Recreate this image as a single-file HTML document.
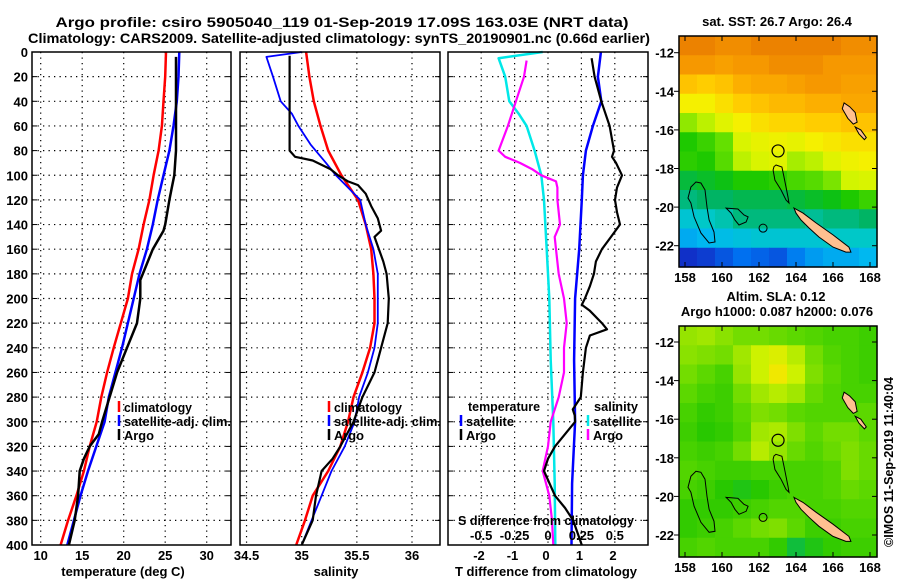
<!DOCTYPE html>
<html><head><meta charset="utf-8"><style>
html,body{margin:0;padding:0;background:#fff;}
svg{display:block;font-family:"Liberation Sans",Arial,sans-serif;font-weight:bold;}
text{font-size:13px;fill:#000;}
</style></head><body>
<svg id="fig" width="900" height="580" viewBox="0 0 900 580" xmlns="http://www.w3.org/2000/svg">
<text x="342" y="27" text-anchor="middle" textLength="573" lengthAdjust="spacingAndGlyphs" style="font-size:14px">Argo profile: csiro 5905040_119 01-Sep-2019 17.09S 163.03E (NRT data)</text>
<text x="339" y="43" text-anchor="middle" textLength="622" lengthAdjust="spacingAndGlyphs" style="font-size:14px">Climatology: CARS2009. Satellite-adjusted climatology: synTS_20190901.nc (0.66d earlier)</text>
<text x="777" y="26" text-anchor="middle">sat. SST: 26.7 Argo: 26.4</text>
<text x="776" y="301" text-anchor="middle">Altim. SLA: 0.12</text>
<text x="777" y="316" text-anchor="middle">Argo h1000: 0.087 h2000: 0.076</text>
<text x="0" y="0" transform="translate(893,547) rotate(-90)" textLength="170" lengthAdjust="spacingAndGlyphs">©IMOS 11-Sep-2019 11:40:04</text>
</svg>
<script>
// ---------- profile data ----------
const depthTicks=[0,20,40,60,80,100,120,140,160,180,200,220,240,260,280,300,320,340,360,380,400];
const tempTickLabels=[10,15,20,25,30];
const salTickLabels=[34.5,35,35.5,36];
const tdiffTickLabels=[-2,-1,0,1,2];
const sdiffTickLabels=[-0.5,-0.25,0,0.25,0.5];

const tClimDepth=[0,20,40,60,80,100,120,140,160,180,200,240,260,280,300,320,340,360,380,400];
const tClimVal=[25.1,25.0,24.8,24.6,24.2,23.6,23.1,22.4,21.8,21.0,20.5,18.8,18.0,17.3,16.75,15.9,15.2,14.3,13.3,12.4];
const tSatDepth=[0,20,40,60,80,100,120,140,160,180,200,240,260,280,300,320,340,360,380,400];
const tSatVal=[26.7,26.6,26.4,26.0,25.5,24.8,24.1,23.5,22.8,21.9,21.2,19.8,19.0,18.2,17.7,16.7,15.7,14.8,14.0,13.2];
const tArgoDepth=[4,20,40,60,80,100,110,120,140,145,160,180,185,200,220,240,260,280,300,310,320,330,340,360,380,400];
const tArgoVal=[26.3,26.3,26.3,26.3,26.3,26.1,25.8,25.5,25.0,24.8,23.5,22.3,22.0,22.0,21.6,20.4,19.2,18.3,17.4,17.0,15.9,15.2,14.7,14.5,14.1,13.4];

const sClimDepth=[0,20,40,60,80,100,120,140,160,180,200,220,240,260,280,300,320,340,360,380,400];
const sClimVal=[35.04,35.07,35.11,35.17,35.24,35.36,35.51,35.58,35.63,35.65,35.66,35.66,35.62,35.55,35.47,35.42,35.35,35.24,35.10,35.03,34.95];
const sSatDepth=[0,4,20,40,50,60,75,90,100,120,140,160,180,200,220,240,260,280,300,320,340,360,380,400];
const sSatVal=[35.0,34.68,34.74,34.81,34.91,34.97,35.08,35.22,35.31,35.53,35.58,35.65,35.69,35.69,35.69,35.66,35.60,35.52,35.48,35.39,35.27,35.18,35.09,35.0];
const sArgoDepth=[3,40,80,85,88,95,100,105,108,115,125,135,145,150,160,170,180,200,220,240,260,280,300,320,330,340,360,380,400];
const sArgoVal=[34.89,34.89,34.89,34.94,35.10,35.26,35.33,35.42,35.51,35.58,35.63,35.69,35.72,35.66,35.70,35.74,35.77,35.79,35.78,35.72,35.66,35.55,35.47,35.35,35.28,35.18,35.13,35.10,35.0];

const dtSatDepth=[0,20,40,60,80,100,120,160,200,250,300,350,400];
const dtSatVal=[1.64,1.55,1.65,1.40,1.19,1.10,1.07,0.99,0.87,0.84,0.87,0.78,0.76];
const dtArgoDepth=[5,20,40,60,80,85,90,100,110,120,130,140,150,160,170,180,190,200,205,210,220,225,230,240,260,280,290,295,300,310,320,330,340,360,370,380,400];
const dtArgoVal=[1.36,1.45,1.65,1.90,2.03,1.97,2.09,2.27,2.12,2.06,2.12,2.21,1.94,1.67,1.49,1.43,1.31,1.16,1.07,1.31,1.67,1.82,1.31,1.19,1.10,1.04,0.80,0.86,0.87,0.57,0.27,0.06,-0.06,0.27,0.57,0.81,1.07];
const dsSatDepth=[0,5,20,40,50,60,80,100,120,160,200,250,300,350,400];
const dsSatVal=[-0.04,-0.37,-0.32,-0.29,-0.22,-0.16,-0.10,-0.05,-0.03,-0.01,0.01,0.02,0.04,0.05,0.055];
const dsArgoDepth=[7,20,40,60,80,85,90,95,100,105,110,120,140,150,160,180,200,220,240,260,280,300,320,330,340,360,380,400];
const dsArgoVal=[-0.16,-0.18,-0.24,-0.30,-0.37,-0.32,-0.21,-0.12,-0.05,0.06,0.07,0.07,0.09,0.05,0.06,0.08,0.12,0.14,0.12,0.12,0.08,0.02,0.0,-0.02,-0.04,0.01,0.03,0.04];

// ---------- map data ----------
const sstGrid=[
[28.0,28.0,27.9,27.9,28.0,28.0,28.0,28.0,28.0,27.9,27.9],
[27.8,27.8,27.7,27.8,27.8,27.9,27.9,27.9,27.8,27.8,27.8],
[27.3,27.2,27.3,27.5,27.6,27.6,27.7,27.8,27.8,27.7,27.7],
[26.8,26.8,27.0,27.2,27.3,27.4,27.4,27.5,27.5,27.6,27.6],
[26.0,26.2,26.5,26.8,27.0,27.1,27.1,27.2,27.2,27.3,27.3],
[25.3,25.5,25.8,26.4,26.6,26.7,26.6,26.8,26.9,27.0,27.0],
[25.4,25.3,25.7,26.2,26.4,26.5,26.1,26.2,26.5,26.7,26.8],
[24.9,25.0,25.1,25.3,25.3,25.4,25.6,25.7,25.9,26.3,26.4],
[24.6,24.7,24.7,24.8,24.8,24.8,24.9,25.0,25.1,25.3,25.5],
[24.2,24.3,24.4,24.6,24.6,24.6,24.6,24.5,24.6,24.6,24.7],
[23.8,23.9,24.0,24.1,24.2,24.2,24.2,24.2,24.3,24.3,24.3],
[22.9,23.0,23.2,23.4,23.3,23.2,23.5,23.7,23.8,23.8,23.9]];
const slaGrid=[
[0.15,0.16,0.14,0.12,0.12,0.11,0.10,0.09,0.08,0.08,0.07],
[0.14,0.13,0.12,0.16,0.20,0.22,0.18,0.12,0.09,0.08,0.07],
[0.12,0.10,0.08,0.15,0.20,0.25,0.20,0.13,0.10,0.08,0.07],
[0.10,0.08,0.07,0.12,0.16,0.18,0.16,0.11,0.09,0.08,0.08],
[0.08,0.06,0.07,0.10,0.13,0.12,0.10,0.09,0.09,0.09,0.10],
[0.07,0.05,0.06,0.09,0.16,0.17,0.13,0.10,0.12,0.12,0.10],
[0.08,0.07,0.08,0.12,0.18,0.15,0.11,0.09,0.11,0.13,0.11],
[0.09,0.08,0.07,0.07,0.08,0.08,0.08,0.08,0.09,0.13,0.11],
[0.08,0.07,0.05,0.04,0.05,0.07,0.08,0.08,0.09,0.11,0.10],
[0.06,0.06,0.06,0.07,0.08,0.09,0.09,0.08,0.08,0.09,0.09],
[0.06,0.07,0.08,0.10,0.12,0.13,0.10,0.07,0.07,0.08,0.08],
[0.08,0.09,0.08,0.08,0.08,0.06,0.02,0.04,0.06,0.07,0.07]];
const lonTicks=[158,160,162,164,166,168];
const latTicks=[-12,-14,-16,-18,-20,-22];
const argoLon=163.03, argoLat=-17.09;
const ncLon=[163.89,164.38,165.08,166.0,166.86,166.97,166.70,166.0,165.24,164.70,164.27,164.0];
const ncLat=[-20.05,-20.31,-20.82,-21.44,-22.07,-22.33,-22.33,-22.07,-21.55,-21.08,-20.67,-20.31];
const santoLon=[166.6,166.9,167.2,167.3,167.1,166.8,166.5];
const santoLat=[-14.6,-14.8,-15.1,-15.6,-15.7,-15.4,-14.9];
const malaLon=[167.2,167.5,167.8,167.7,167.4];
const malaLat=[-15.85,-16.0,-16.4,-16.5,-16.2];
const c1Lon=[158.59,158.86,159.08,159.19,159.30,159.57,159.62,159.30,158.86,158.49,158.32,158.16,158.32,158.59];
const c1Lat=[-18.70,-18.75,-19.11,-20.0,-20.67,-21.29,-21.81,-21.86,-21.34,-20.51,-19.79,-19.53,-18.96,-18.70];
const c2Lon=[160.22,160.86,161.19,161.41,161.30,160.92,160.70,160.49,160.22];
const c2Lat=[-20.05,-20.10,-20.41,-20.51,-20.77,-20.93,-20.67,-20.31,-20.05];
const c3Lon=[162.92,163.24,163.35,163.46,163.57,163.62,163.46,163.19,162.86,162.76,162.81,162.92];
const c3Lat=[-17.82,-17.92,-18.44,-18.96,-19.48,-19.79,-19.63,-19.11,-18.60,-18.08,-17.90,-17.82];

// ---------- drawing ----------
const NS='http://www.w3.org/2000/svg';
const svg=document.getElementById('fig');
function mk(tag,attrs,parent){const e=document.createElementNS(NS,tag);for(const k in attrs)e.setAttribute(k,attrs[k]);(parent||svg).appendChild(e);return e;}
const yD=d=>52+d*1.2325;
const panels=[{x0:32,x1:231},{x0:240,x1:440},{x0:448,x1:648}];
const xT=v=>40.7+(v-10)*8.3;
const xS=v=>301.7+(v-35)*110.3;
const xDT=v=>546+v*33.5;
const xDS=v=>548+v*133.6;

depthTicks.forEach(d=>{
  const t=mk('text',{x:28,y:yD(d)+5,'text-anchor':'end'});
  t.textContent=d;
  
  
});
function grid(p,xs){
  const g=mk('g',{});
  
  
  depthTicks.forEach(d=>{ if(d>0&&d<400) mk('line',{x1:p.x0,x2:p.x1,y1:yD(d),y2:yD(d),stroke:'#000','stroke-width':1.2,'stroke-dasharray':'1.3,4.2'},g);
    mk('line',{x1:p.x0,x2:p.x0+5,y1:yD(d),y2:yD(d),stroke:'#000'},g);
    mk('line',{x1:p.x1-5,x2:p.x1,y1:yD(d),y2:yD(d),stroke:'#000'},g);});
  xs.forEach(x=>mk('line',{x1:x,x2:x,y1:yD(0),y2:yD(400),stroke:'#000','stroke-width':1.2,'stroke-dasharray':'1.3,4.2'},g));
}
grid(panels[0],tempTickLabels.map(xT));
grid(panels[1],salTickLabels.map(xS));
grid(panels[2],sdiffTickLabels.map(xDS));
function series(depths,vals,xf,color,w,name){
  const pts=depths.map((d,i)=>xf(vals[i]).toFixed(1)+','+yD(d).toFixed(1)).join(' ');
  const pl=mk('polyline',{points:pts,fill:'none',stroke:color,'stroke-width':w,'stroke-linejoin':'round'});
  
  
}
series(tClimDepth,tClimVal,xT,'#ff0000',2.5,'temp-climatology-line');
series(tSatDepth,tSatVal,xT,'#0000ff',2.5,'temp-satellite-line');
series(tArgoDepth,tArgoVal,xT,'#000',2.5,'temp-argo-line');
series(sClimDepth,sClimVal,xS,'#ff0000',2.5,'sal-climatology-line');
series(sSatDepth,sSatVal,xS,'#0000ff',1.8,'sal-satellite-line');
series(sArgoDepth,sArgoVal,xS,'#000',2.2,'sal-argo-line');
series(dsSatDepth,dsSatVal,xDS,'#00e8e8',2.5,'sdiff-satellite-line');
series(dsArgoDepth,dsArgoVal,xDS,'#ff00ff',2.2,'sdiff-argo-line');
series(dtSatDepth,dtSatVal,xDT,'#0000ff',2.5,'tdiff-satellite-line');
series(dtArgoDepth,dtArgoVal,xDT,'#000',2.2,'tdiff-argo-line');
panels.forEach(p=>{
  const r=mk('rect',{x:p.x0,y:yD(0),width:p.x1-p.x0,height:yD(400)-yD(0),fill:'none',stroke:'#000','stroke-width':1.5});
  
  
});
function xlabels(vals,xf,y,name){vals.forEach(v=>{const t=mk('text',{x:xf(v),y:y,'text-anchor':'middle'});t.textContent=String(v);
  
  });}
xlabels(tempTickLabels,xT,560,'temp-tick-label');
xlabels(salTickLabels,xS,560,'salinity-tick-label');
xlabels(tdiffTickLabels,xDT,560,'tdiff-tick-label');
xlabels(sdiffTickLabels,xDS,540,'sdiff-tick-label');
function label(x,y,s,name,anchor,len){const t=mk('text',{x:x,y:y,'text-anchor':anchor||'middle'});t.textContent=s;
  if(len){t.setAttribute('textLength',len);t.setAttribute('lengthAdjust','spacingAndGlyphs');}
  
  return t;}
label(123,576,'temperature (deg C)','temp-axis-title');
label(336,576,'salinity','salinity-axis-title');
label(546,576,'T difference from climatology','tdiff-axis-title');
label(546,525,'S difference from climatology','sdiff-axis-title','middle',176);
function legItem(x,y,color,s,name,len){
  mk('line',{x1:x,x2:x,y1:y-11,y2:y,stroke:color,'stroke-width':2.5});
  label(x+5,y,s,name,'start',len);
}
legItem(119,412,'#ff0000','climatology','legend-climatology',68);
legItem(119,426,'#0000ff','satellite-adj. clim.','legend-satellite-adj',107);
legItem(119,440,'#000','Argo','legend-argo',30);
legItem(329,412,'#ff0000','climatology','legend-climatology-2',68);
legItem(329,426,'#0000ff','satellite-adj. clim.','legend-satellite-adj-2',107);
legItem(329,440,'#000','Argo','legend-argo-2',30);
label(468,411,'temperature','legend-temperature-heading','start',72);
legItem(461,426,'#0000ff','satellite','legend-t-satellite',48);
legItem(461,440,'#000','Argo','legend-t-argo',30);
label(594,411,'salinity','legend-salinity-heading','start',44);
legItem(588,426,'#00e8e8','satellite','legend-s-satellite',48);
legItem(588,440,'#ff00ff','Argo','legend-s-argo',30);

// ---------- maps ----------
const sstStops=[[22.9,[16,48,200]],[23.4,[0,112,240]],[23.9,[0,184,240]],[24.3,[0,200,200]],[24.7,[0,180,100]],[25.2,[16,196,0]],[25.8,[100,224,0]],[26.3,[210,245,0]],[26.8,[245,240,0]],[27.2,[255,205,0]],[27.5,[252,175,0]],[27.8,[246,152,0]],[28.0,[236,130,0]]];
const slaStops=[[0.0,[0,184,100]],[0.05,[40,200,0]],[0.1,[92,216,0]],[0.15,[150,228,0]],[0.2,[205,242,0]],[0.25,[240,232,0]]];
function cmap(stops,v){
  if(v<=stops[0][0])return stops[0][1];
  for(let i=1;i<stops.length;i++){if(v<=stops[i][0]){const a=stops[i-1],b=stops[i],f=(v-a[0])/(b[0]-a[0]);return a[1].map((c,k)=>Math.round(c+(b[1][k]-c)*f));}}
  return stops[stops.length-1][1];
}
function drawMap(m,gridv,stops,name){
  const lonX=lon=>685+(lon-158)*18.5;
  const latY=lat=>m.yref+(-12-lat)*19.3;
  const g=mk('g',{});
  
  
  const nr=gridv.length,nc=gridv[0].length,cw=(m.x1-m.x0)/nc,ch=(m.y1-m.y0)/nr;
  gridv.forEach((row,r)=>row.forEach((v,c)=>{const col=cmap(stops,v);
    const cell=mk('rect',{x:m.x0+c*cw,y:m.y0+r*ch,width:cw+0.6,height:ch+0.6,fill:'rgb('+col.join(',')+')'},g);
    
    }));
  function poly(lons,lats,fill,stroke,nm){
    const pts=lons.map((l,i)=>lonX(l).toFixed(1)+','+latY(lats[i]).toFixed(1)).join(' ');
    const p=mk('polygon',{points:pts,fill:fill,stroke:stroke,'stroke-width':1},g);
    
    
  }
  poly(ncLon,ncLat,'#ffc090','#000','new-caledonia');
  poly(santoLon,santoLat,'#ffc090','#000','vanuatu-santo');
  poly(malaLon,malaLat,'#ffc090','#000','vanuatu-malakula');
  poly(c1Lon,c1Lat,'none','#000','bathymetry-contour');
  poly(c2Lon,c2Lat,'none','#000','bathymetry-contour');
  poly(c3Lon,c3Lat,'none','#000','bathymetry-contour');
  const ring=mk('circle',{cx:lonX(162.22),cy:latY(-21.09),r:4,fill:'none',stroke:'#000'},g);
  
  
  const ac=mk('circle',{cx:lonX(argoLon),cy:latY(argoLat),r:6,fill:'none',stroke:'#000','stroke-width':1.2},g);
  
  
  const fr=mk('rect',{x:m.x0,y:m.y0,width:m.x1-m.x0,height:m.y1-m.y0,fill:'none',stroke:'#000','stroke-width':1.5},g);
  
  
  lonTicks.forEach(l=>{mk('line',{x1:lonX(l),x2:lonX(l),y1:m.y1,y2:m.y1-5,stroke:'#000'},g);mk('line',{x1:lonX(l),x2:lonX(l),y1:m.y0,y2:m.y0+5,stroke:'#000'},g);
    const t=mk('text',{x:lonX(l),y:m.y1+15,'text-anchor':'middle'},g);t.textContent=l;
    
    });
  latTicks.forEach(l=>{mk('line',{x1:m.x0,x2:m.x0-5,y1:latY(l),y2:latY(l),stroke:'#000'},g);mk('line',{x1:m.x1,x2:m.x1-5,y1:latY(l),y2:latY(l),stroke:'#000'},g);
    const t=mk('text',{x:m.x0-5,y:latY(l)+5,'text-anchor':'end'},g);t.textContent=l;
    
    });
}
drawMap({x0:679,x1:877,y0:36,y1:267,yref:52.7},sstGrid,sstStops,'sst-map');
drawMap({x0:679,x1:877,y0:326,y1:557,yref:342},slaGrid,slaStops,'sla-map');
</script>
</body></html>
